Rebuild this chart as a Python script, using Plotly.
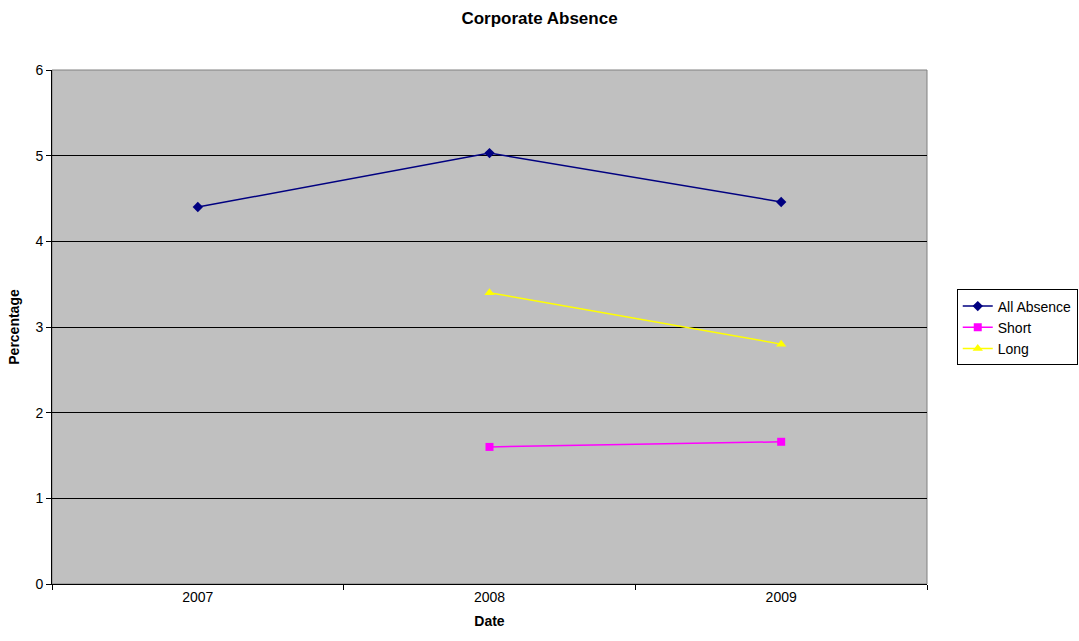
import plotly.graph_objects as go

years = ["2007", "2008", "2009"]
all_absence = [4.40, 5.03, 4.46]
short_absence = [None, 1.60, 1.66]
long_absence = [None, 3.40, 2.80]

font_family = "Liberation Sans, Arial, sans-serif"

fig = go.Figure()
fig.add_trace(go.Scatter(
    x=years, y=all_absence, name="All Absence", mode="lines+markers",
    line=dict(color="#000080", width=1.5),
    marker=dict(symbol="diamond", size=8, color="#000080"),
))
fig.add_trace(go.Scatter(
    x=years, y=short_absence, name="Short", mode="lines+markers",
    line=dict(color="#FF00FF", width=1.5),
    marker=dict(symbol="square", size=8, color="#FF00FF"),
))
fig.add_trace(go.Scatter(
    x=years, y=long_absence, name="Long", mode="lines+markers",
    line=dict(color="#FFFF00", width=1.5),
    marker=dict(symbol="triangle-up", size=9, color="#FFFF00"),
))

fig.update_layout(
    width=1079, height=641,
    margin=dict(l=52, r=152, t=70, b=57, autoexpand=False),
    paper_bgcolor="white",
    plot_bgcolor="#C0C0C0",
    font=dict(family=font_family, size=14, color="black"),
    title=dict(text="<b>Corporate Absence</b>", x=0.5, xref="container",
               xanchor="center", y=0.972, yanchor="middle",
               font=dict(size=17)),
    legend=dict(x=1.034, y=0.573, xanchor="left", yanchor="top",
                bgcolor="white", bordercolor="black", borderwidth=1,
                font=dict(size=14), tracegroupgap=0, itemwidth=30),
    xaxis=dict(
        type="category", range=[-0.5, 2.5],
        tickson="boundaries", ticks="outside", ticklen=5, tickcolor="black",
        showgrid=False, showline=True, linecolor="black", linewidth=1,
        title=dict(text="<b>Date</b>", standoff=12, font=dict(size=14)),
        tickfont=dict(size=14),
    ),
    yaxis=dict(
        range=[0, 6], dtick=1, ticks="outside", ticklen=5, tickcolor="black",
        showgrid=True, gridcolor="black", gridwidth=1,
        showline=True, linecolor="black", linewidth=1, mirror=False,
        zeroline=False,
        title=dict(text="<b>Percentage</b>", standoff=12, font=dict(size=14)),
        tickfont=dict(size=14),
    ),
)

# thin border around the plotting area
fig.add_shape(type="rect", xref="paper", yref="paper", x0=0, y0=0, x1=1, y1=1,
              line=dict(color="#808080", width=1), layer="below")

fig.write_html("out.html")
